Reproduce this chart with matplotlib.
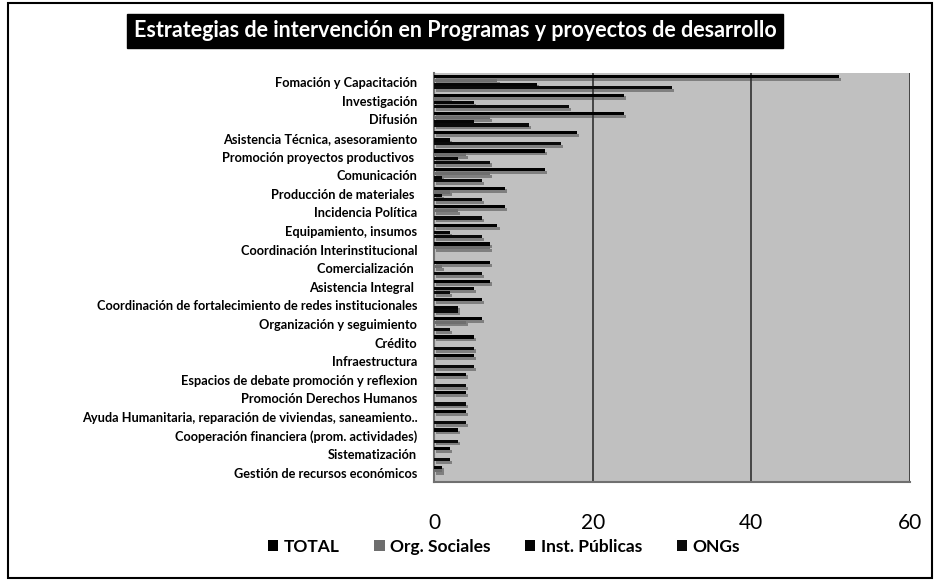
import matplotlib.pyplot as plt
import matplotlib.patheffects as pe
from matplotlib.patches import Rectangle
import numpy as np

# datos
categorias = ['Fomación y Capacitación', 'Investigación', 'Difusión',
              'Asistencia Técnica, asesoramiento', 'Promoción proyectos productivos ',
              'Comunicación', 'Producción de materiales ', 'Incidencia Política',
              'Equipamiento, insumos', 'Coordinación Interinstitucional',
              'Comercialización ', 'Asistencia Integral ',
              'Coordinación de fortalecimiento de redes institucionales',
              'Organización y seguimiento', 'Crédito', 'Infraestructura',
              'Espacios de debate promoción y reflexion', 'Promoción Derechos Humanos',
              'Ayuda Humanitaria, reparación de viviendas, saneamiento..',
              'Cooperación financiera (prom. actividades)', 'Sistematización',
              'Gestión de recursos económicos']
total = [51, 24, 24, 18, 14, 14, 9, 9, 8, 7, 7, 7, 6, 6, 5, 5, 4, 4, 4, 3, 2, 1]
org_sociales = [8, 2, 7, 0, 4, 7, 2, 3, 0, 7, 1, 0, 0, 4, 0, 0, 0, 0, 0, 0, 0, 1]
inst_publicas = [13, 5, 5, 2, 3, 1, 1, 0, 2, 0, 0, 5, 3, 0, 0, 0, 0, 0, 0, 0, 0, 0]
ongs = [30, 17, 12, 16, 7, 6, 6, 6, 6, 0, 6, 2, 3, 2, 5, 5, 4, 4, 4, 3, 2, 0]
series = [('TOTAL', total, '#000000'),
          ('Org. Sociales', org_sociales, '#6e6e6e'),
          ('Inst. Públicas', inst_publicas, '#050505'),
          ('ONGs', ongs, '#0a0a0a')]

plt.rcParams['font.family'] = ['Lato', 'DejaVu Sans']

fig = plt.figure(figsize=(9.4, 5.83), dpi=100)
ax = fig.add_axes([0.4617, 0.1732, 0.5064, 0.7016])
ax.set_facecolor('#c0c0c0')

y = np.arange(len(categorias))
h = 0.2
sombra = [pe.SimplePatchShadow(offset=(1.5, -2), shadow_rgbFace='#303030', alpha=0.45), pe.Normal()]
handles = []
for k, (nombre, vals, color) in enumerate(series):
    b = ax.barh(y - 0.3 + k * h, vals, height=h * 0.85, color=color, zorder=3)
    for p in b:
        p.set_path_effects(sombra)
    # cuadro de leyenda sin sombra
    handles.append(Rectangle((0, 0), 1, 1, facecolor=color, label=nombre))

ax.set_xlim(0, 60)
ax.set_ylim(len(categorias) - 0.5, -0.5)
ax.set_xticks([0, 20, 40, 60])
ax.set_yticks(y)
ax.set_yticklabels(categorias, fontsize=9.2, fontweight='bold')
ax.tick_params(axis='y', length=0, pad=12)
ax.tick_params(axis='x', length=0, pad=22, labelsize=15)
ax.grid(axis='x', color='#3c3c3c', linewidth=1.3, zorder=1)
ax.spines['top'].set_visible(False)
ax.spines['right'].set_visible(False)
ax.spines['left'].set_color('#707070')
ax.spines['bottom'].set_color('#707070')
ax.spines['left'].set_linewidth(1.5)
ax.spines['bottom'].set_linewidth(1.5)
ax.set_axisbelow(True)

fig.legend(handles=handles, loc='center', bbox_to_anchor=(0.536, 0.062), ncol=4,
           frameon=False, prop={'weight': 'bold', 'size': 12.5},
           handlelength=0.6, handleheight=0.6, handletextpad=0.3, columnspacing=2.0)

fig.text(0.484, 0.947, 'Estrategias de intervención en Programas y proyectos de desarrollo',
         ha='center', va='center', color='white', fontsize=15.5, fontweight='bold',
         bbox=dict(facecolor='black', edgecolor='black', boxstyle='square,pad=0.3'))

# marco exterior
fig.patches.append(Rectangle((0.009, 0.009), 0.983, 0.985, transform=fig.transFigure,
                             fill=False, edgecolor='black', linewidth=1.5))

fig.savefig('out.png', dpi=100)
